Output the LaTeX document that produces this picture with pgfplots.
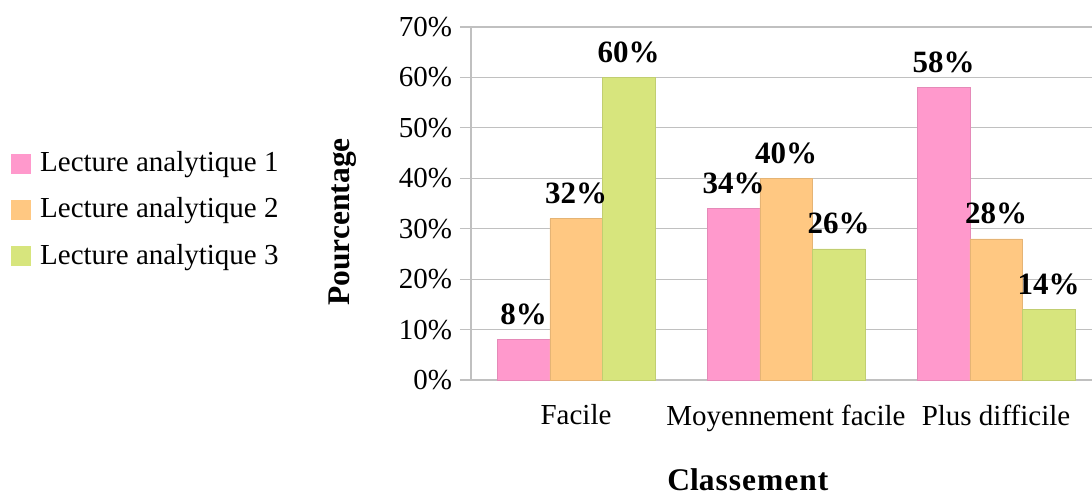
\documentclass[border=0pt]{standalone}
\usepackage{fontspec}
\setmainfont{Liberation Serif}
\usepackage{pgfplots}
\pgfplotsset{compat=1.18}
\definecolor{la1}{RGB}{255,153,204}
\definecolor{la2}{RGB}{255,200,130}
\definecolor{la3}{RGB}{215,229,125}
\definecolor{gridgray}{RGB}{192,192,192}

\begin{document}
\fontsize{29}{34}\selectfont
\begin{tikzpicture}[x=1pt,y=1pt]
\useasboundingbox (0,0) rectangle (1092,-496);
\begin{axis}[
  at={(471pt,-380pt)}, anchor=south west,
  scale only axis, width=621pt, height=353pt,
  xmin=-0.5, xmax=2.457, ymin=0, ymax=70,
  ybar=0pt, bar width=0.25,
  /pgf/number format/assume math mode=true,
  xtick={0,1,2},
  xticklabels={Facile, Moyennement facile, Plus difficile},
  xticklabel style={yshift=-4pt},
  yticklabel style={xshift=2pt},
  xtick style={draw=none},
  minor xtick={-0.5,0.5,1.5,2.5},
  ytick={0,10,...,70},
  yticklabel={\pgfmathprintnumber{\tick}\%},
  tick align=outside,
  major tick length=11pt, minor tick length=11pt,
  minor tick style={gridgray, line width=1.2pt},
  ytick style={gridgray, line width=1.2pt},
  ymajorgrids, grid style={gridgray, line width=1.2pt},
  axis lines*=left,
  axis line style={gridgray, line width=1.2pt},
  ylabel={\fontsize{31.5}{36}\selectfont\bfseries Pourcentage},
  ylabel style={at={(axis description cs:-0.206,0.448)}, anchor=center},
  xlabel={\fontsize{31.5}{36}\selectfont\bfseries Cla\kern1pt s\kern1pt s\kern1pt e\kern1pt m\kern1pt e\kern1pt n\kern1pt t},
  xlabel style={at={(axis description cs:0.446,-0.283)}, anchor=center},
  nodes near coords={\pgfmathprintnumber{\pgfplotspointmeta}\%},
  every node near coord/.append style={font=\fontsize{31}{36}\selectfont\bfseries, anchor=base, yshift=15pt, text=black},
  legend style={at={(axis description cs:-0.7407,0.4816)}, anchor=west,
    draw=none, fill=none, inner sep=0pt, row sep=18pt,
    /tikz/every odd column/.append style={column sep=7pt}},
  legend cell align=left,
  legend image code/.code={\draw[#1,draw=none] (0pt,-10pt) rectangle (20pt,10pt);},
]
\addplot[fill=la1, draw=la1!90!black, line width=0.4pt] coordinates {(0,8) (1,34) (2,58)};
\addplot[fill=la2, draw=la2!90!black, line width=0.4pt] coordinates {(0,32) (1,40) (2,28)};
\addplot[fill=la3, draw=la3!90!black, line width=0.4pt] coordinates {(0,60) (1,26) (2,14)};
\legend{Lecture analytique 1, Lecture analytique 2, Lecture analytique 3}
\end{axis}
\end{tikzpicture}
\end{document}
